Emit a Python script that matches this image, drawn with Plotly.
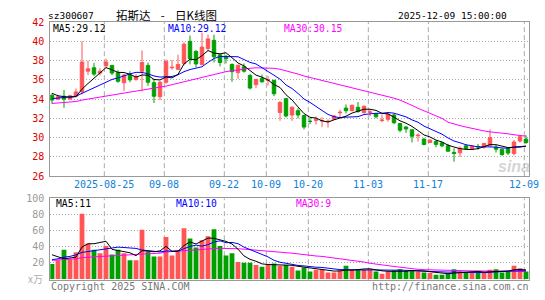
import plotly.graph_objects as go

W, H = 545, 300

# ---------------- data ----------------
dates = [
    "08-12", "08-13", "08-14", "08-15", "08-18", "08-19", "08-20", "08-21", "08-22",
    "08-25", "08-26", "08-27", "08-28", "08-29",
    "09-01", "09-02", "09-03", "09-04", "09-05", "09-08", "09-09", "09-10", "09-11", "09-12",
    "09-15", "09-16", "09-17", "09-18", "09-19", "09-22", "09-23", "09-24", "09-25", "09-26",
    "09-29", "09-30",
    "10-09", "10-10", "10-13", "10-14", "10-15", "10-16", "10-17", "10-20", "10-21", "10-22",
    "10-23", "10-24", "10-27", "10-28", "10-29", "10-30", "10-31",
    "11-03", "11-04", "11-05", "11-06", "11-07", "11-10", "11-11", "11-12", "11-13", "11-14",
    "11-17", "11-18", "11-19", "11-20", "11-21", "11-24", "11-25", "11-26", "11-27", "11-28",
    "12-01", "12-02", "12-03", "12-04", "12-05", "12-08", "12-09",
]

open_ = [34.4, 34.0, 34.3, 34.0, 34.3, 34.75, 36.9, 37.25, 36.7, 37.45,
         37.5, 36.75, 35.7, 36.45, 36.05, 36.9, 37.5, 35.7, 34.25, 35.75,
         37.25, 37.1, 37.7, 40.0, 38.95, 37.6, 39.25, 40.1, 38.6, 38.4,
         37.6, 36.75, 37.35, 36.45, 35.5, 36.15, 35.95, 35.95, 32.6, 34.05,
         32.35, 32.8, 32.3, 31.72, 31.8, 31.72, 31.65, 31.9, 32.58, 33.07,
         32.8, 33.15, 32.6, 32.62, 32.5, 31.78, 31.9, 32.35, 31.47, 31.1,
         30.82, 30.2, 29.85, 29.5, 29.6, 29.47, 29.15, 28.47, 28.42, 29.15,
         28.85, 29.08, 29.0, 29.15, 29.0, 28.8, 28.9, 28.35, 29.65, 29.85]
high = [34.6, 34.4, 34.95, 34.45, 35.1, 40.0, 38.0, 37.75, 37.2, 38.2,
        37.55, 37.0, 36.6, 36.9, 36.6, 39.05, 37.8, 36.1, 35.9, 38.1,
        38.05, 38.6, 39.9, 40.6, 39.1, 40.9, 40.7, 40.7, 38.7, 38.6,
        37.7, 37.6, 37.7, 36.6, 36.1, 36.55, 36.4, 36.0, 33.8, 34.1,
        33.25, 33.05, 32.3, 32.05, 32.2, 32.1, 31.9, 32.3, 32.9, 33.45,
        33.45, 33.7, 33.35, 32.9, 32.5, 32.4, 32.5, 32.5, 31.5, 31.2,
        30.85, 30.45, 29.95, 29.8, 29.75, 29.55, 29.35, 28.9, 29.1, 29.3,
        29.15, 29.35, 29.45, 30.85, 29.25, 28.85, 29.0, 29.75, 30.2, 30.25]
low = [33.5, 33.9, 33.1, 33.9, 34.2, 34.5, 36.5, 36.4, 36.45, 37.3,
       36.5, 35.7, 34.85, 35.75, 35.9, 34.8, 35.4, 33.6, 33.9, 35.6,
       37.05, 37.0, 37.5, 37.6, 37.3, 37.5, 39.0, 37.8, 37.4, 37.7,
       35.8, 36.1, 36.75, 35.0, 35.15, 35.7, 35.4, 34.3, 31.75, 32.1,
       31.75, 32.0, 30.85, 31.4, 31.35, 31.1, 31.05, 31.85, 32.1, 32.5,
       32.75, 32.6, 32.5, 32.2, 32.0, 31.6, 31.65, 31.4, 30.55, 30.5,
       29.5, 29.6, 29.2, 29.45, 29.0, 29.0, 28.5, 27.5, 28.0, 28.75,
       28.8, 28.75, 28.85, 29.1, 28.45, 28.1, 28.2, 28.15, 29.5, 29.35]
close = [33.9, 34.25, 34.0, 34.35, 34.75, 37.85, 37.15, 36.6, 36.9, 37.85,
         36.7, 35.85, 36.5, 36.0, 36.35, 37.8, 35.75, 34.3, 35.75, 37.9,
         37.3, 37.6, 39.7, 38.2, 37.65, 39.4, 40.25, 38.4, 37.8, 38.2,
         36.85, 37.5, 36.9, 35.15, 36.05, 35.8, 36.0, 34.55, 33.65, 32.25,
         33.15, 32.35, 31.1, 31.68, 31.85, 31.78, 31.7, 32.25, 32.63, 32.8,
         33.35, 32.7, 33.25, 32.67, 32.17, 31.82, 32.45, 31.55, 30.78, 30.9,
         30.15, 30.25, 29.3, 29.74, 29.3, 29.15, 28.6, 28.37, 28.9, 28.87,
         29.1, 29.05, 29.4, 30.0, 28.8, 28.25, 28.4, 29.55, 30.1, 29.5]

ma5 = [34.6, 34.35, 34.25, 34.2, 34.25, 35.04, 35.62, 36.14, 36.65, 37.27,
       37.04, 36.78, 36.76, 36.58, 36.28, 36.5, 36.48, 36.04, 35.99, 36.3,
       36.2, 36.57, 37.65, 38.14, 38.09, 38.51, 39.04, 38.78, 38.7, 38.81,
       38.3, 37.75, 37.45, 36.92, 36.49, 36.28, 35.98, 35.51, 35.21, 34.45,
       33.92, 33.19, 32.5, 32.11, 32.03, 31.75, 31.62, 31.85, 32.04, 32.23,
       32.55, 32.75, 32.95, 32.95, 32.83, 32.52, 32.47, 32.13, 31.75, 31.5,
       31.17, 30.73, 30.28, 30.07, 29.75, 29.55, 29.22, 29.03, 28.86, 28.78,
       28.77, 28.86, 29.06, 29.28, 29.27, 29.1, 28.97, 29.0, 29.02, 29.12]
ma10 = [34.05, 34.1, 34.15, 34.2, 34.3, 34.6, 34.9, 35.15, 35.45, 35.76,
        36.04, 36.2, 36.45, 36.62, 36.78, 36.77, 36.63, 36.4, 36.29, 36.29,
        36.35, 36.53, 36.85, 37.07, 37.2, 37.36, 37.81, 38.22, 38.42, 38.45,
        38.41, 38.4, 38.12, 37.81, 37.65, 37.29, 36.87, 36.48, 36.07, 35.47,
        35.1, 34.59, 34.01, 33.66, 33.24, 32.84, 32.41, 32.18, 32.07, 32.13,
        32.15, 32.18, 32.4, 32.5, 32.53, 32.53, 32.61, 32.54, 32.35, 32.16,
        31.84, 31.6, 31.2, 30.91, 30.62, 30.36, 29.97, 29.65, 29.47, 29.26,
        29.16, 29.04, 29.05, 29.07, 29.02, 28.93, 28.91, 29.03, 29.1, 29.12]
ma30 = [33.55, 33.6, 33.65, 33.7, 33.75, 33.9, 34.0, 34.1, 34.25, 34.35,
        34.45, 34.55, 34.65, 34.75, 34.8, 34.9, 35.0, 35.1, 35.2, 35.35,
        35.5, 35.65, 35.8, 35.95, 36.1, 36.25, 36.45, 36.6, 36.75, 36.85,
        36.95, 37.05, 37.15, 37.2, 37.25, 37.25, 37.25, 37.2, 37.1, 36.95,
        36.8, 36.6, 36.4, 36.25, 36.1, 35.95, 35.8, 35.65, 35.5, 35.3,
        35.15, 35.0, 34.85, 34.7, 34.55, 34.4, 34.25, 34.1, 33.9, 33.65,
        33.35, 33.05, 32.8, 32.55, 32.25, 32.0, 31.6, 31.4, 31.25, 31.1,
        30.95, 30.8, 30.7, 30.6, 30.55, 30.45, 30.4, 30.3, 30.2, 30.15]

volume = [18.6, 23.1, 36.3, 24.4, 33.1, 81.0, 43.9, 36.3, 31.9, 41.0,
          30.3, 36.3, 31.9, 23.1, 23.1, 60.9, 34.0, 27.9, 27.9, 51.9,
          29.1, 35.5, 63.0, 50.2, 39.1, 47.9, 53.1, 61.7, 41.0, 29.1,
          31.9, 21.1, 20.0, 20.0, 17.2, 15.2, 17.2, 19.3, 16.3, 17.2,
          15.2, 10.4, 14.3, 9.2, 11.3, 12.2, 8.1, 8.1, 10.4, 16.3,
          11.7, 12.3, 11.3, 11.3, 9.2, 6.4, 9.2, 10.4, 12.2, 10.0,
          10.4, 9.2, 8.1, 7.3, 5.3, 5.3, 6.4, 12.2, 9.2, 8.1,
          9.2, 8.1, 8.1, 11.3, 12.2, 8.1, 9.2, 16.3, 13.3, 9.2]
vma5 = [30, 27, 25, 26, 27.1, 39.6, 43.7, 43.7, 45.2, 46.8,
        36.7, 35.2, 34.3, 32.5, 28.9, 35.1, 34.6, 33.8, 34.8, 40.5,
        34.2, 34.5, 41.5, 45.9, 43.4, 47.1, 50.7, 50.4, 48.6, 46.6,
        43.4, 37.0, 28.6, 24.4, 22.0, 18.7, 17.9, 17.8, 17.0, 17.0,
        17.0, 15.7, 14.7, 13.3, 12.1, 11.5, 11.0, 9.8, 10.0, 11.0,
        10.9, 11.8, 12.4, 12.6, 11.2, 10.1, 9.5, 9.3, 9.5, 9.6,
        10.4, 10.4, 10.0, 9.0, 8.1, 7.0, 6.5, 7.3, 7.7, 8.2,
        9.0, 9.4, 8.5, 9.0, 9.8, 9.6, 9.8, 11.4, 11.8, 11.2]
vma10 = [24, 25, 27, 28, 30, 33, 34, 35, 36, 37.0,
         38.1, 39.5, 39.0, 38.9, 37.9, 35.9, 34.9, 34.0, 33.6, 34.7,
         34.6, 34.5, 37.6, 40.4, 42.0, 40.7, 42.6, 45.9, 47.3, 45.0,
         45.3, 43.8, 39.5, 36.5, 34.3, 31.0, 27.4, 23.2, 20.7, 19.5,
         17.9, 16.8, 16.2, 15.2, 14.6, 14.3, 13.4, 12.2, 11.6, 11.6,
         11.2, 11.4, 11.1, 11.3, 11.1, 10.5, 10.6, 10.9, 11.0, 10.4,
         10.3, 10.0, 9.6, 9.2, 8.9, 8.7, 8.5, 8.6, 8.3, 8.2,
         8.0, 7.9, 7.9, 8.3, 9.0, 9.3, 9.6, 10.0, 10.2, 10.3]
vma30 = [23.1, 23.5, 24, 24.5, 25, 26.5, 27, 27.5, 28, 28.5,
         29, 29.3, 29.6, 30, 30.3, 31, 31.3, 31.6, 32, 33.5,
         33.8, 34, 35, 35.5, 36, 36.8, 37.2, 37.8, 38, 38,
         38, 37.5, 37, 36.5, 35.5, 35, 34.5, 34, 33.3, 32.6,
         32, 31, 30.2, 29.3, 28.5, 28, 27, 26, 25.3, 24.5,
         23.5, 22.5, 21, 19.5, 18.3, 17.3, 16.5, 15.5, 14.6, 13.6,
         12.5, 12, 11.5, 11.2, 10.9, 10.7, 10.4, 10.3, 10.2, 10.1,
         10, 10, 9.9, 9.8, 9.7, 9.6, 9.5, 9.5, 9.4, 9.3]

tick_dates = ["08-25", "09-08", "09-22", "10-09", "10-20", "11-03", "11-17", "12-09"]
tick_text = ["2025-08-25", "09-08", "09-22", "10-09", "10-20", "11-03", "11-17", "12-09"]
price_ticks = [26, 28, 30, 32, 34, 36, 38, 40, 42]
volume_ticks = [20, 40, 60, 80, 100]

stock_code = "sz300607"
title_text = "拓斯达 - 日K线图"
timestamp = "2025-12-09 15:00:00"
price_legend = ["MA5:29.12", "MA10:29.12", "MA30:30.15"]
volume_legend = ["MA5:11", "MA10:10", "MA30:9"]

# ---------------- style ----------------
RED = "#ff5555"
GREEN = "#00a000"
BLUE = "#0000ff"
MAG = "#ff00ff"
FRAME = "#999999"
GRID = "#aaaaaa"
MONO = "DejaVu Sans Mono"

def fx(p):
    return p / W

def fy(p):
    return 1 - p / H

x = list(range(len(dates)))
vol_colors = [RED if c >= o else GREEN for o, c in zip(open_, close)]

fig = go.Figure()
fig.add_trace(go.Candlestick(
    x=x, open=open_, high=high, low=low, close=close,
    increasing=dict(line=dict(color=RED, width=1), fillcolor=RED),
    decreasing=dict(line=dict(color=GREEN, width=1), fillcolor=GREEN),
    whiskerwidth=0, hoverinfo="skip", xaxis="x", yaxis="y"))
for series, col in [(ma30, MAG), (ma10, BLUE), (ma5, "#000000")]:
    fig.add_trace(go.Scatter(x=x, y=series, mode="lines",
                             line=dict(color=col, width=1),
                             hoverinfo="skip", xaxis="x", yaxis="y"))

fig.add_trace(go.Bar(x=x, y=volume, marker=dict(color=vol_colors, line=dict(width=0)),
                     width=0.8, hoverinfo="skip", xaxis="x2", yaxis="y2"))
for series, col in [(vma30, MAG), (vma10, BLUE), (vma5, "#000000")]:
    fig.add_trace(go.Scatter(x=x, y=series, mode="lines",
                             line=dict(color=col, width=1),
                             hoverinfo="skip", xaxis="x2", yaxis="y2"))

xrange = [-0.283, 79.55]
xdom = [fx(50.3), fx(529.3)]
common_x = dict(domain=xdom, range=xrange, showticklabels=False, showgrid=False,
                zeroline=False, showline=True, mirror=True, linecolor=FRAME,
                linewidth=1, ticks="", fixedrange=True)
fig.update_layout(
    width=W, height=H, margin=dict(l=0, r=0, t=0, b=0),
    paper_bgcolor="white", plot_bgcolor="white", showlegend=False,
    hovermode=False, boxgap=0.18,
    xaxis=dict(anchor="y", rangeslider=dict(visible=False), **common_x),
    xaxis2=dict(anchor="y2", **common_x),
    yaxis=dict(domain=[fy(177.7), fy(17.7)], range=[26, 42], anchor="x",
               tickvals=price_ticks, ticktext=[str(v) for v in price_ticks],
               tickfont=dict(family=MONO, size=10, color="#e00000"),
               ticks="", ticklabelstandoff=3,
               showgrid=True, gridcolor=GRID, gridwidth=1, griddash="1px,2px",
               zeroline=False, showline=True, mirror=True, linecolor=FRAME, linewidth=1),
    yaxis2=dict(domain=[fy(285.7), fy(200.7)], range=[-1.55, 100], anchor="x2",
                tickvals=volume_ticks, ticktext=[str(v) for v in volume_ticks],
                tickfont=dict(family=MONO, size=10, color="#999999"),
                ticks="", ticklabelstandoff=3,
                showgrid=True, gridcolor=GRID, gridwidth=1, griddash="1px,2px",
                zeroline=False, showline=True, mirror=True, linecolor=FRAME, linewidth=1),
)

shapes = []
for d in tick_dates:
    xi = dates.index(d) - 0.28
    for xr, yr in [("x", "y domain"), ("x2", "y2 domain")]:
        shapes.append(dict(type="line", xref=xr, yref=yr, x0=xi, x1=xi, y0=0, y1=1,
                           line=dict(color=GRID, width=1, dash="5px,3px"), layer="below"))
fig.update_layout(shapes=shapes)

ann = []
def text(t, px, py, color="#000000", size=10, family=MONO, anchor="left", **kw):
    ann.append(dict(text=t, x=fx(px), y=fy(py), xref="paper", yref="paper",
                    xanchor=anchor, yanchor="middle", showarrow=False,
                    font=dict(family=family, size=size, color=color), borderpad=0, **kw))

text(stock_code, 46.5, 10.5, size=9.5)
NB = "\u00a0"
text(title_text.replace(" ", NB * 4), 115, 10, size=11.5, family="Noto Sans CJK SC")
text(timestamp, 508, 10.5, size=9.5, anchor="right")

for t, px, col in zip(price_legend, [51.5, 167, 282.5], ["#000000", BLUE, MAG]):
    text(t, px, 24, color=col, size=9.7)
for t, px, col in zip(volume_legend, [54.5, 174.5, 294.5], ["#000000", BLUE, MAG]):
    text(t, px, 206.5, color=col, size=9.7)

for d, lab in zip(tick_dates, tick_text):
    xi = dates.index(d) - 0.28
    ann.append(dict(text=lab, x=xi, y=fy(186), xref="x", yref="paper",
                    xanchor="center", yanchor="middle", showarrow=False,
                    font=dict(family=MONO, size=10, color="#1080d8")))

text("x万", 44, 284, color="#b0b0b0", size=10, family="Noto Sans CJK SC", anchor="right")
text("Copyright 2025 SINA.COM", 49.5, 292.5, color="#777777", size=10)
text("http://finance.sina.com.cn", 529.5, 292.5, color="#777777", size=10, anchor="right")
text("<i><b>sina</b></i>", 514, 168, color="rgba(170,170,170,0.5)", size=16,
     family="Liberation Sans", anchor="center")

fig.update_layout(annotations=ann)
fig.write_html("out.html")
